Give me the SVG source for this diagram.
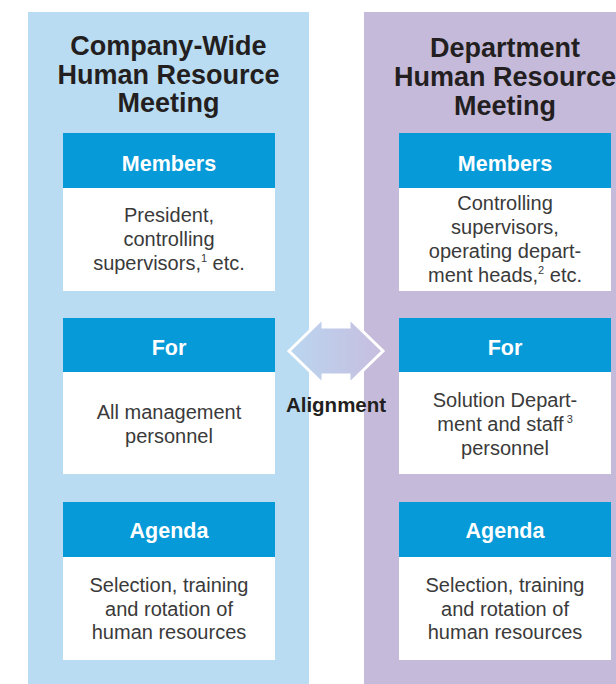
<svg xmlns="http://www.w3.org/2000/svg" width="616" height="684" viewBox="0 0 616 684">
<style>
.title{font-family:"Liberation Sans",Arial,sans-serif;font-weight:bold;font-size:27px;fill:#231f20;text-anchor:middle}
.hdr{font-family:"Liberation Sans",Arial,sans-serif;font-weight:bold;font-size:21.5px;fill:#fff;text-anchor:middle}
.body{font-family:"Liberation Sans",Arial,sans-serif;font-size:20px;fill:#3a3a3a;text-anchor:middle}
.sup{font-size:11px}
.hbox{fill:#069ad8}
.bbox{fill:#fff}
.lbl{font-family:"Liberation Sans",Arial,sans-serif;font-weight:bold;font-size:20.5px;fill:#231f20;text-anchor:middle}
</style>
<defs>
<linearGradient id="ag" x1="0" y1="0" x2="1" y2="0">
<stop offset="0" stop-color="#bad6f0"/>
<stop offset="1" stop-color="#c7bddf"/>
</linearGradient>
</defs>
<rect width="616" height="684" fill="#fff"/>
<g id="panel-company">
<rect x="28" y="12" width="281" height="672" fill="#badcf3"/>
<text class="title" x="168.5" y="55">Company-Wide</text>
<text class="title" x="168.5" y="83.5">Human Resource</text>
<text class="title" x="168.5" y="112">Meeting</text>
</g>
<g id="panel-department">
<rect x="364" y="12" width="252" height="672" fill="#c6badb"/>
<text class="title" x="505" y="57">Department</text>
<text class="title" x="505" y="86">Human Resource</text>
<text class="title" x="505" y="115">Meeting</text>
</g>
<g id="company-members">
<rect class="hbox" x="63" y="133" width="212" height="55"/>
<rect class="bbox" x="63" y="188" width="212" height="103"/>
<text class="hdr" x="169" y="170.5">Members</text>
<text class="body" x="169" y="222">President,</text>
<text class="body" x="169" y="246">controlling</text>
<text class="body" x="169" y="270">supervisors,<tspan class="sup" dy="-8">1</tspan><tspan dy="8"> etc.</tspan></text>
</g>
<g id="company-for">
<rect class="hbox" x="63" y="318" width="212" height="54"/>
<rect class="bbox" x="63" y="372" width="212" height="102"/>
<text class="hdr" x="169" y="355">For</text>
<text class="body" x="169" y="419">All management</text>
<text class="body" x="169" y="443">personnel</text>
</g>
<g id="company-agenda">
<rect class="hbox" x="63" y="502" width="212" height="55"/>
<rect class="bbox" x="63" y="557" width="212" height="103"/>
<text class="hdr" x="169" y="538">Agenda</text>
<text class="body" x="169" y="592">Selection, training</text>
<text class="body" x="169" y="615.5">and rotation of</text>
<text class="body" x="169" y="639">human resources</text>
</g>
<g id="department-members">
<rect class="hbox" x="399" y="133" width="212" height="55"/>
<rect class="bbox" x="399" y="188" width="212" height="103"/>
<text class="hdr" x="505" y="170.5">Members</text>
<text class="body" x="505" y="210">Controlling</text>
<text class="body" x="505" y="234">supervisors,</text>
<text class="body" x="505" y="258">operating depart-</text>
<text class="body" x="505" y="282">ment heads,<tspan class="sup" dy="-8">2</tspan><tspan dy="8"> etc.</tspan></text>
</g>
<g id="department-for">
<rect class="hbox" x="399" y="318" width="212" height="54"/>
<rect class="bbox" x="399" y="372" width="212" height="102"/>
<text class="hdr" x="505" y="355">For</text>
<text class="body" x="505" y="407">Solution Depart-</text>
<text class="body" x="505" y="431">ment and staff<tspan class="sup" dx="3" dy="-8">3</tspan></text>
<text class="body" x="505" y="455">personnel</text>
</g>
<g id="department-agenda">
<rect class="hbox" x="399" y="502" width="212" height="55"/>
<rect class="bbox" x="399" y="557" width="212" height="103"/>
<text class="hdr" x="505" y="538">Agenda</text>
<text class="body" x="505" y="592">Selection, training</text>
<text class="body" x="505" y="615.5">and rotation of</text>
<text class="body" x="505" y="639">human resources</text>
</g>
<g id="connectors">
<polygon points="289,351 323,318 323,327 349,327 349,318 383,351 349,384 349,375 323,375 323,384" fill="url(#ag)" stroke="#fff" stroke-width="3" stroke-linejoin="miter"/>
<text class="lbl" x="336" y="412">Alignment</text>
</g>
</svg>
